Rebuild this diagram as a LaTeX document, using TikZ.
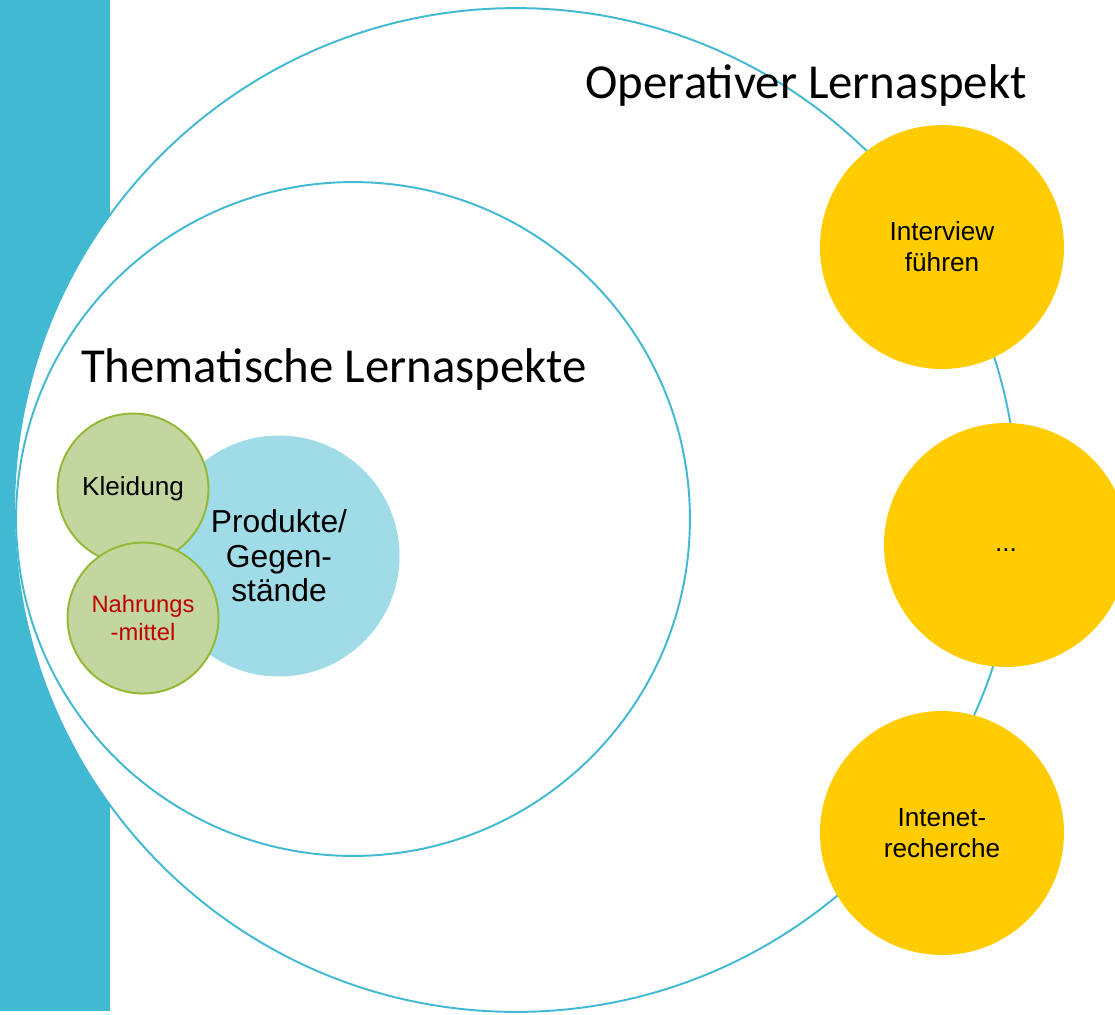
\documentclass[tikz,border=0pt]{standalone}
\usepackage{fontspec}
\setmainfont{Liberation Sans}
\newfontfamily\calibri{Carlito}
\definecolor{barblue}{RGB}{65,185,211}
\definecolor{prodblue}{RGB}{160,220,232}
\definecolor{leafgreen}{RGB}{195,214,160}
\definecolor{leafline}{RGB}{146,185,52}
\definecolor{gold}{RGB}{255,204,0}
\definecolor{darkred}{RGB}{192,0,0}

\begin{document}
\begin{tikzpicture}[x=0.02cm,y=-0.02cm,
ring/.style={circle,draw=barblue,line width=1.1pt,inner sep=0pt,minimum size=#1},
blob/.style={circle,fill=gold,inner sep=0pt,minimum size=4.88cm,align=center,
  font=\fontsize{14.9}{17.8}\selectfont},
leaf/.style={circle,draw=leafline,fill=leafgreen,line width=1.1pt,inner sep=0pt,
  minimum size=3.02cm,align=center,font=\fontsize{#1}{16}\selectfont},
title/.style={anchor=base,font=\calibri\fontsize{27.8}{33}\selectfont}]

 \useasboundingbox (0,0) rectangle (1115,1014);
 \clip (0,0) rectangle (1115,1014);
 \fill[barblue] (0,0) rectangle (110,1011);
 %
 \node[ring=20.08cm,fill=white] (outer) at (516,510) {};
 \node[ring=13.48cm] (inner) at (353,519) {};
 \node[title] (op) at (806,98) {Operativer Lernaspekt};
 \node[title] (them) at (334,382) {Thematische Lernaspekte};
 %
 \node[circle,fill=prodblue,inner sep=0pt,minimum size=4.82cm,align=center,
   font=\fontsize{18.1}{19.7}\selectfont] (prod) at (279,556) {Produkte/\\Gegen-\\stände};
 \node[leaf=14.9] (kleid) at (133,489) {Kleidung};
 \node[leaf=13.5,text=darkred] (nahr) at (143,618) {Nahrungs\\-mittel};
 %
 \node[blob] (interview) at (942,247) {Interview\\führen};
 \node[blob] (more) at (1006,545) {\strut...};
 \node[blob] (recherche) at (942,833) {Intenet-\\recherche};
\end{tikzpicture}
\end{document}
